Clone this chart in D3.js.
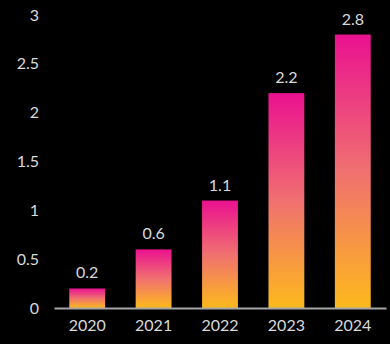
<!DOCTYPE html>
<html>
<head>
<meta charset="utf-8">
<script src="https://cdn.jsdelivr.net/npm/d3@7"></script>
<style>
  html, body { margin: 0; padding: 0; background: #000; }
  svg { display: block; }
  text { font-family: 'Lato', 'DejaVu Sans', sans-serif; fill: #d9d9d9; }
</style>
</head>
<body>
<svg id="chart" width="390" height="344"></svg>
<script>
var years = ['2020', '2021', '2022', '2023', '2024'];
var values = [0.2, 0.6, 1.1, 2.2, 2.8];
var yTicks = [0, 0.5, 1, 1.5, 2, 2.5, 3];

var svg = d3.select('#chart');

var x = d3.scaleBand().domain(years).range([54, 386]).paddingInner(0.46).paddingOuter(0.23),
	y = d3.scaleLinear().domain([0, 3]).range([308, 15]);

var defs = svg.append('defs');
var grad = defs.append('linearGradient')
	.attr('id', 'barGrad')
	.attr('x1', 0).attr('y1', 0).attr('x2', 0).attr('y2', 1);
grad.append('stop').attr('offset', '0%').attr('stop-color', '#ea1190');
grad.append('stop').attr('offset', '50%').attr('stop-color', '#f07070');
grad.append('stop').attr('offset', '100%').attr('stop-color', '#fdb91c');

// y axis labels (no line)
var yAxis = svg.append('g')
	.attr('transform', 'translate(39,0)')
	.call(d3.axisLeft(y).tickValues(yTicks).tickSize(0).tickPadding(0).tickFormat(d3.format('')));
yAxis.select('.domain').remove();
yAxis.selectAll('text').style('font-size', '16px').attr('fill', '#d9d9d9');

// bars
svg.selectAll('.bar')
	.data(values)
	.enter().append('rect')
	.attr('class', 'bar')
	.attr('fill', 'url(#barGrad)')
	.attr('x', function(d, i) { return x(years[i]); })
	.attr('y', function(d) { return y(d); })
	.attr('width', x.bandwidth())
	.attr('height', function(d) { return y(0) - y(d); });

// x axis
var xAxis = svg.append('g')
	.attr('transform', 'translate(0,' + y(0) + ')')
	.call(d3.axisBottom(x).tickSize(0).tickPadding(12));
xAxis.select('.domain').attr('stroke', '#a6a6a6').attr('stroke-width', 2);
xAxis.selectAll('text').style('font-size', '16px').attr('fill', '#d9d9d9');

// value labels
svg.selectAll('.val')
	.data(values)
	.enter().append('text')
	.attr('class', 'val')
	.attr('text-anchor', 'middle')
	.style('font-size', '16px')
	.attr('x', function(d, i) { return x(years[i]) + x.bandwidth() / 2; })
	.attr('y', function(d) { return y(d) - 10; })
	.text(function(d) { return d; });
</script>
</body>
</html>
